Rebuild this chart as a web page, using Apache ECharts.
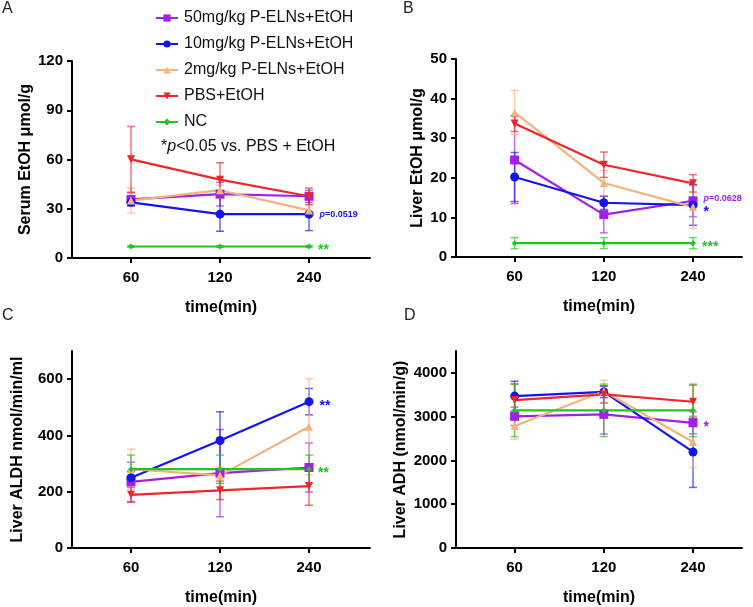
<!DOCTYPE html>
<html>
<head>
<meta charset="utf-8">
<script src="https://cdn.jsdelivr.net/npm/echarts@6/dist/echarts.min.js"></script>
<style>html,body{margin:0;padding:0;background:#fff;}#c{width:753px;height:607px;}</style>
</head>
<body>
<div id="c"></div>
<script>
// ---- data ----
const groups = ['50mg/kg P-ELNs+EtOH', '10mg/kg P-ELNs+EtOH', '2mg/kg P-ELNs+EtOH', 'PBS+EtOH', 'NC'];
const timeLabels = ['60', '120', '240'];
const timePos = [1, 2, 3];

// Panel A: Serum EtOH (umol/g), rows follow groups order
const serumMean = [[35.7, 38.9, 37.6], [33.9, 26.7, 26.7], [35.0, 41.3, 29.0], [60.1, 47.7, 37.6], [7.0, 7.0, 7.0]];
const serumSD   = [[4.0, 7.2, 3.7], [2.0, 10.4, 10.0], [7.5, 3.0, 3.0], [20.0, 10.3, 5.0], [0.5, 0.5, 0.5]];
// Panel B: Liver EtOH (umol/g)
const liverMean = [[24.5, 10.7, 14.2], [20.2, 13.7, 13.1], [36.5, 18.7, 12.6], [33.7, 23.3, 18.6], [3.5, 3.5, 3.5]];
const liverSD   = [[11.0, 4.6, 4.0], [6.2, 1.7, 5.1], [5.6, 3.2, 5.4], [2.0, 3.2, 2.2], [1.4, 1.4, 1.4]];
// Panel C: Liver ALDH (nmol/min/ml)
const aldhMean = [[235, 266, 286], [250, 382, 520], [280, 258, 431], [189, 205, 220], [280, 280, 280]];
const aldhSD   = [[70, 155, 87], [22, 102, 47], [71, 30, 171], [27, 33, 68], [50, 50, 50]];
// Panel D: Liver ADH (nmol/min/g)
const adhMean = [[3007, 3052, 2860], [3470, 3565, 2194], [2787, 3580, 2420], [3378, 3508, 3341], [3144, 3144, 3144]];
const adhSD   = [[210, 450, 250], [340, 130, 810], [300, 250, 580], [370, 200, 380], [600, 600, 600]];

// y-axis tick values
const yTicksA = [0, 30, 60, 90, 120];
const yTicksB = [0, 10, 20, 30, 40, 50];
const yTicksC = [0, 200, 400, 600];
const yTicksD = [0, 1000, 2000, 3000, 4000];

// significance annotations: [panel, groupIndex, text]
const notes = [
  [0, 1, 'p=0.0519'], [0, 4, '**'],
  [1, 0, 'p=0.0628'], [1, 1, '*'], [1, 4, '***'],
  [2, 1, '**'], [2, 4, '**'],
  [3, 0, '*']
];

// ---- styles ----
const colors = ['#A21FEA', '#1414F0', '#F4B37C', '#F2252A', '#22C322'];
const symbols = ['rect', 'circle', 'triangle', 'triangle', 'diamond'];
const symRot = [0, 0, 0, 180, 0];
const symSize = [9, 9, 8, 8, 6];
const FONT = 'Liberation Sans, Arial, sans-serif';

const panels = [
  {mean: serumMean, sd: serumSD, name: 'Serum EtOH μmol/g', max: 120, ticks: yTicksA, nameGap: 37,
   grid: {left: 72, top: 61, width: 298, height: 197}, xmin: 0.337, xmax: 3.685},
  {mean: liverMean, sd: liverSD, name: 'Liver EtOH μmol/g', max: 50, ticks: yTicksB, nameGap: 30,
   grid: {left: 456, top: 59, width: 286, height: 198}, xmin: 0.343, xmax: 3.549},
  {mean: aldhMean, sd: aldhSD, name: 'Liver ALDH nmol/min/ml', max: 700, ticks: yTicksC, nameGap: 46,
   grid: {left: 72, top: 351, width: 298, height: 197}, xmin: 0.337, xmax: 3.685},
  {mean: adhMean, sd: adhSD, name: 'Liver ADH (nmol/min/g)', max: 4500, ticks: yTicksD, nameGap: 47,
   grid: {left: 456, top: 351, width: 286, height: 198}, xmin: 0.343, xmax: 3.549}
];

const axisLine = {show: true, lineStyle: {color: '#000', width: 2}};
const axisTickStyle = {lineStyle: {color: '#000', width: 2}, length: 5};

const grids = [], xAxes = [], yAxes = [], series = [];
panels.forEach((p, pi) => {
  grids.push(Object.assign({containLabel: false}, p.grid));
  xAxes.push({
    type: 'value', gridIndex: pi, min: p.xmin, max: p.xmax,
    axisLine: axisLine, splitLine: {show: false},
    axisTick: Object.assign({show: true, customValues: timePos}, axisTickStyle),
    axisLabel: {customValues: timePos, formatter: v => timeLabels[Math.round(v) - 1],
      color: '#000', fontWeight: 'bold', fontSize: 15, fontFamily: FONT, margin: 12},
    name: 'time(min)', nameLocation: 'middle', nameGap: 42,
    nameTextStyle: {color: '#000', fontWeight: 'bold', fontSize: 16, fontFamily: FONT}
  });
  yAxes.push({
    type: 'value', gridIndex: pi, min: 0, max: p.max,
    axisLine: axisLine, splitLine: {show: false},
    axisTick: Object.assign({show: true, customValues: p.ticks}, axisTickStyle),
    axisLabel: {customValues: p.ticks, formatter: v => String(v),
      color: '#000', fontWeight: 'bold', fontSize: 15, fontFamily: FONT, margin: 9},
    name: p.name, nameLocation: 'middle', nameGap: p.nameGap, nameRotate: 90,
    nameTextStyle: {color: '#000', fontWeight: 'bold', fontSize: 16, fontFamily: FONT}
  });

  groups.forEach((g, gi) => {
    const mean = p.mean[gi], sd = p.sd[gi];
    // mean line
    const data = mean.map((m, i) => {
      const item = {value: [timePos[i], m]};
      if (i === 2) {
        const n = notes.find(t => t[0] === pi && t[1] === gi);
        if (n) {
          const isP = n[2].startsWith('p=');
          let off = [2, 0];
          if (!isP) off = [2, 4];
          if (pi === 1 && gi === 0) off = [2, -2];
          if (pi === 1 && gi === 1) off = [2, 7];
          item.label = {
            show: true, position: 'right', distance: 4, offset: off,
            formatter: isP ? '{i|p}' + n[2].slice(1) : n[2],
            color: colors[gi], fontFamily: FONT,
            fontWeight: 'bold', fontSize: isP ? 9 : 14,
            rich: {i: {fontStyle: 'italic', fontWeight: 'bold', fontSize: 9, color: colors[gi], fontFamily: FONT}}
          };
        }
      }
      return item;
    });
    series.push({
      type: 'line', name: g, xAxisIndex: pi, yAxisIndex: pi, z: 3,
      data: data,
      symbol: symbols[gi], symbolSize: symSize[gi], symbolRotate: symRot[gi],
      lineStyle: {color: colors[gi], width: 2.2},
      itemStyle: {color: colors[gi]},
      label: {show: false},
      emphasis: {disabled: true},
      animation: false
    });
    // error bars
    series.push({
      type: 'custom', name: g + ' SD', xAxisIndex: pi, yAxisIndex: pi, silent: true, z: 2,
      itemStyle: {color: colors[gi]},
      data: mean.map((m, i) => [timePos[i], m - sd[i], m + sd[i]]),
      renderItem: (params, api) => {
        const x = api.value(0);
        const lo = api.coord([x, api.value(1)]);
        const hi = api.coord([x, api.value(2)]);
        const w = 4;
        const st = {stroke: colors[gi], lineWidth: 1.5, opacity: 0.65};
        return {type: 'group', children: [
          {type: 'line', shape: {x1: lo[0], y1: lo[1], x2: hi[0], y2: hi[1]}, style: st},
          {type: 'line', shape: {x1: lo[0] - w, y1: lo[1], x2: lo[0] + w, y2: lo[1]}, style: st},
          {type: 'line', shape: {x1: hi[0] - w, y1: hi[1], x2: hi[0] + w, y2: hi[1]}, style: st}
        ]};
      }
    });
  });
});

const chart = echarts.init(document.getElementById('c'), null, {renderer: 'canvas'});
chart.setOption({
  animation: false,
  backgroundColor: '#fff',
  grid: grids, xAxis: xAxes, yAxis: yAxes, series: series,
  legend: {
    orient: 'vertical', left: 150, top: 5, data: groups,
    itemWidth: 22, itemHeight: 9, itemGap: 10,
    textStyle: {fontSize: 16, fontFamily: FONT, color: '#111', padding: [0, 0, 0, 1]}
  },
  graphic: [
    {type: 'text', left: 2, top: 1, style: {text: 'A', fontSize: 16, fontFamily: FONT, fill: '#222'}},
    {type: 'text', left: 403, top: 1, style: {text: 'B', fontSize: 16, fontFamily: FONT, fill: '#222'}},
    {type: 'text', left: 2, top: 308, style: {text: 'C', fontSize: 16, fontFamily: FONT, fill: '#222'}},
    {type: 'text', left: 404, top: 308, style: {text: 'D', fontSize: 16, fontFamily: FONT, fill: '#222'}},
    {type: 'text', left: 161, top: 139, style: {
      text: '*{i|p}<0.05 vs. PBS + EtOH', fontSize: 16, fontFamily: FONT, fill: '#111',
      rich: {i: {fontStyle: 'italic', fontSize: 16, fontFamily: FONT, fill: '#111'}}
    }}
  ]
});
</script>
</body>
</html>
